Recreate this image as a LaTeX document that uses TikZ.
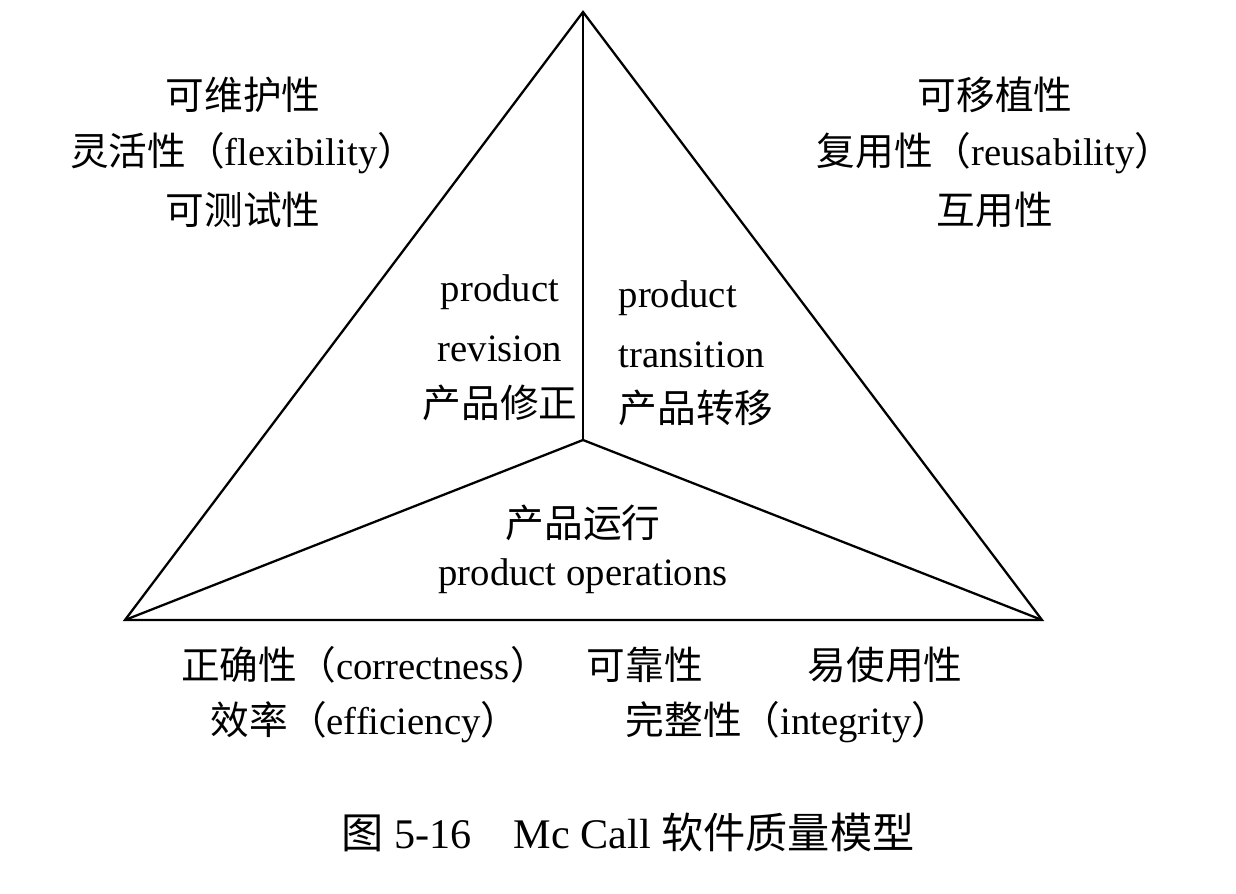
\documentclass[tikz,border=0pt]{standalone}
\usepackage{fontspec}
\setmainfont{Liberation Serif}
\newfontfamily\cjk{Noto Sans CJK SC}
\usetikzlibrary{positioning}
\newcommand{\zh}[1]{{\cjk #1}}

\begin{document}
\begin{tikzpicture}[
  x=0.01cm, y=-0.01cm,
  edge/.style={line width=0.65pt, draw=black},
  label/.style={inner sep=0pt, font=\fontsize{11}{13}\selectfont},
  caption/.style={inner sep=0pt, font=\fontsize{12}{14}\selectfont}
]
  \useasboundingbox (0,0) rectangle (1236,894);

  % triangle corners and centre
  \coordinate (top) at (583,12);
  \coordinate (left) at (125,620);
  \coordinate (right) at (1042,620);
  \coordinate (mid) at (583,440);

  \draw[edge] (top) -- (left) -- (right) -- cycle;
  \draw[edge] (mid) -- (top);
  \draw[edge] (mid) -- (left);
  \draw[edge] (mid) -- (right);

  % revision corner
  \node[label] (maint) at (243,95) {\zh{可维护性}};
  \node[label] (flex) at (243,153) {\zh{灵活性（}flexibility\zh{）}};
  \node[label] (test) at (243,210) {\zh{可测试性}};

  % transition corner
  \node[label] (port) at (995,95) {\zh{可移植性}};
  \node[label] (reuse) at (995,153) {\zh{复用性（}reusability\zh{）}};
  \node[label] (inter) at (995,210) {\zh{互用性}};

  % inner areas
  \node[label] (rev1) at (500,292) {product};
  \node[label] (rev2) at (500,349) {revision};
  \node[label] (rev3) at (500,403) {\zh{产品修正}};
  \node[label, anchor=west] (tra1) at (618,298) {product};
  \node[label, anchor=west] (tra2) at (618,355) {transition};
  \node[label, anchor=west] (tra3) at (618,408) {\zh{产品转移}};
  \node[label] (ops1) at (583,523) {\zh{产品运行}};
  \node[label] (ops2) at (583,576) {product operations};

  % operations qualities
  \node[label] (correct) at (365,665) {\zh{正确性（}correctness\zh{）}};
  \node[label] (reliab) at (645,665) {\zh{可靠性}};
  \node[label] (usab) at (885,665) {\zh{易使用性}};
  \node[label] (effic) at (365,722) {\zh{效率（}efficiency\zh{）}};
  \node[label] (integ) at (788,722) {\zh{完整性（}integrity\zh{）}};

  \node[caption] (title) at (628,832) {\zh{图} 5-16\quad Mc Call \zh{软件质量模型}};
\end{tikzpicture}
\end{document}
